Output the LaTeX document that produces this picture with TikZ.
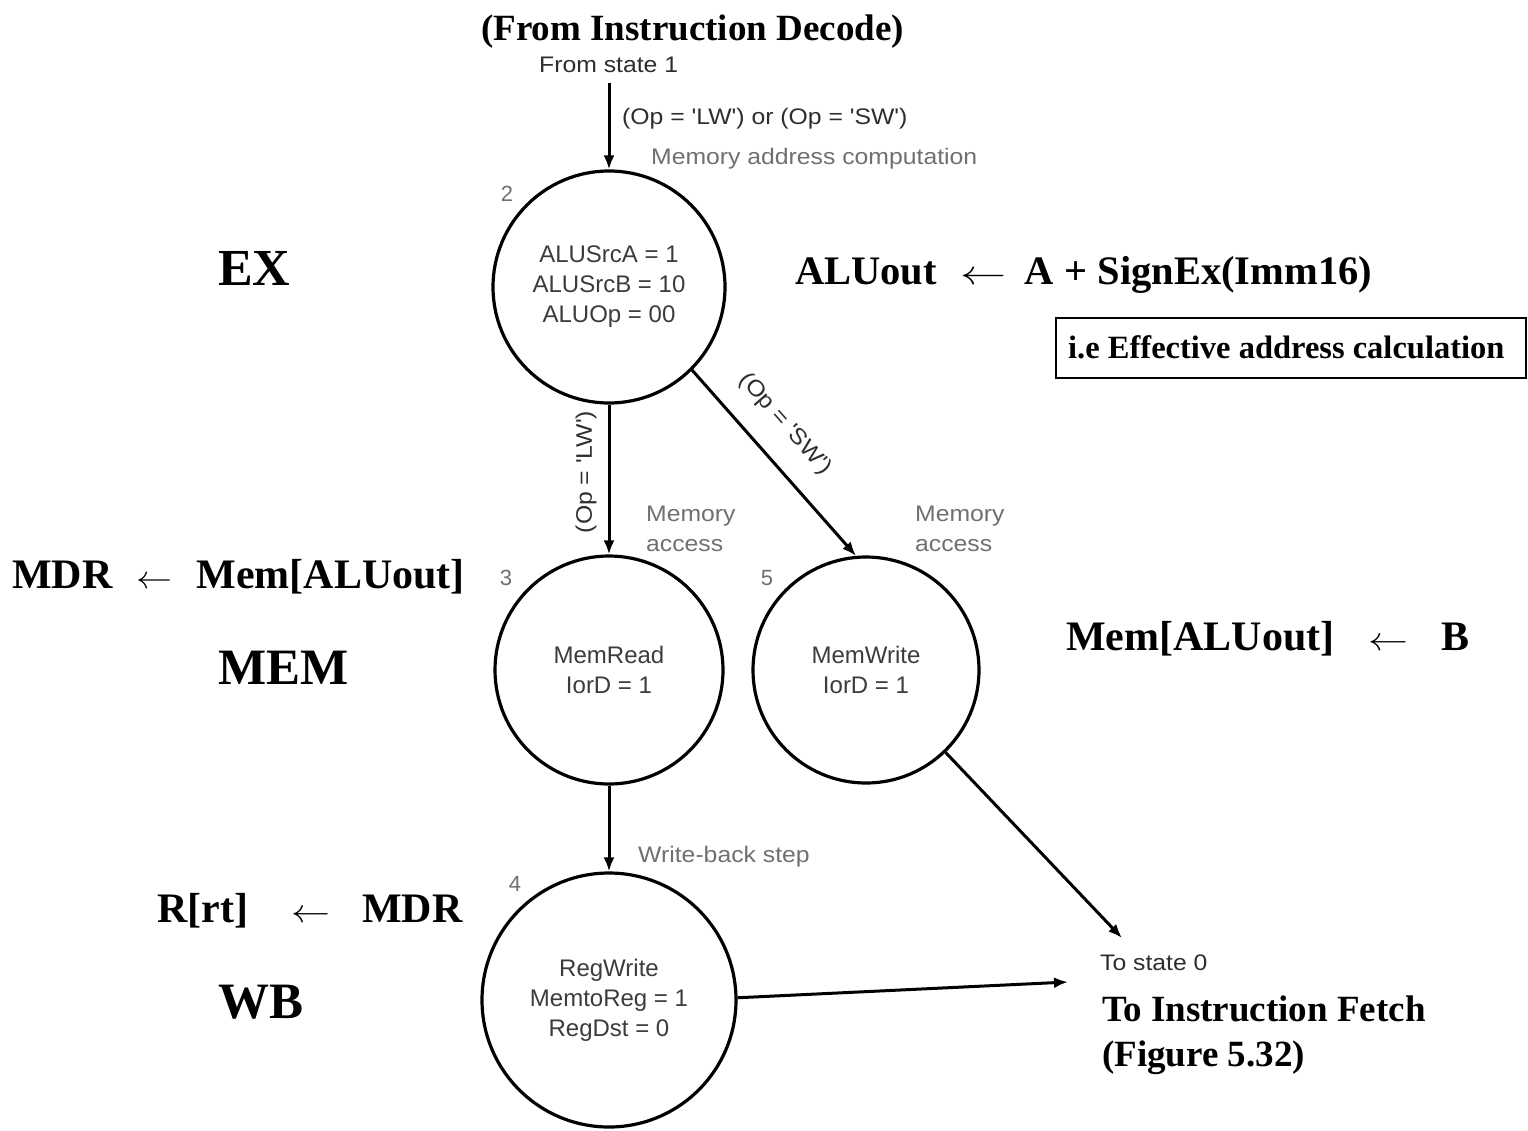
\RequirePackage{fix-cm}
\documentclass[tikz,border=0pt]{standalone}
\usepackage{fontspec}
\usepackage{graphicx}
\usetikzlibrary{arrows.meta}
\setmainfont{Liberation Serif}
\newfontfamily\sanslbl[FakeStretch=1.1]{Liberation Sans}
\newfontfamily\sanscirc{Liberation Sans}
\newcommand{\xwide}[2]{\scalebox{#1}[1]{#2}}
\newcommand{\fsz}[1]{\fontsize{#1}{#1}\selectfont}
\newcommand{\larr}[2]{\scalebox{#1}[#2]{\fsz{10}$\leftarrow$}}
\definecolor{lblgray}{HTML}{707070}
\definecolor{darklbl}{HTML}{2E2E2E}
\definecolor{circtext}{HTML}{3C3C3C}

\begin{document}
\begin{tikzpicture}[x=1pt,y=-1pt,
  state/.style={circle, draw=black, line width=3.2pt, inner sep=0pt,
    align=center, text=circtext, font=\sanscirc\fontsize{24}{30}\selectfont},
  flow/.style={line width=3pt, -{Latex[length=14pt,width=11pt]}},
  lbl/.style={inner sep=0pt, anchor=base west, text=darklbl,
    font=\sanslbl\fontsize{22.5}{22.5}\selectfont},
  phase/.style={inner sep=0pt, anchor=base west, text=lblgray,
    font=\sanslbl\fontsize{22.5}{22.5}\selectfont},
  num/.style={inner sep=0pt, text=lblgray, font=\sanscirc\fontsize{22}{22}\selectfont},
  bold/.style={inner sep=0pt, anchor=base west, font=\bfseries}]

\fill[white] (0,0) rectangle (1528,1130);
\useasboundingbox (0,0) rectangle (1528,1130);

% states
\node[state, minimum size=232pt] (s2) at (609,287) {ALUSrcA = 1\\ALUSrcB = 10\\ALUOp = 00};
\node[state, minimum size=228pt] (s3) at (609,670) {MemRead\\IorD = 1};
\node[state, minimum size=226pt] (s5) at (866,670) {MemWrite\\IorD = 1};
\node[state, minimum size=254pt] (s4) at (609,1000) {RegWrite\\MemtoReg = 1\\RegDst = 0};

% state numbers
\node[num] (n2) at (507,194) {2};
\node[num] (n3) at (506,578) {3};
\node[num] (n5) at (767,578) {5};
\node[num] (n4) at (515,884) {4};

% transitions
\coordinate (entry) at (609,83);
\coordinate (tozero) at (1122,938);
\coordinate (tofetch) at (1068,982);
\draw[flow] (entry) -- (s2.north);
\draw[flow] (s2.south) -- (s3.north);
\draw[flow] (s2.-45) -- (s5.95);
\draw[flow] (s3.south) -- (s4.north);
\draw[flow] (s5.-46) -- (tozero);
\draw[flow] (s4.1) -- (tofetch);

% small labels
\node[lbl] (from1) at (539,72) {From state 1};
\node[lbl] (cond) at (622,124) {(Op = 'LW') or (Op = 'SW')};
\node[phase] (addr) at (651,164) {Memory address computation};
\node[lbl, anchor=center, rotate=90] (condlw) at (586,472) {(Op = 'LW')};
\node[lbl, anchor=center, rotate=-48.6] (condsw) at (785,424) {(Op = 'SW')};
\node[phase] (acc3a) at (646,521) {Memory};
\node[phase] (acc3b) at (646,551) {access};
\node[phase] (acc5a) at (915,521) {Memory};
\node[phase] (acc5b) at (915,551) {access};
\node[phase] (wb) at (638,862) {Write-back step};
\node[lbl] (to0) at (1100,970) {To state 0};

% stage names and register transfers
\node[bold] (dec) at (481,40) {\fsz{37}(From Instruction Decode)};
\node[bold] (ex) at (218,285) {\fsz{52}EX};
\node[bold] (mem) at (218,684) {\fsz{51}MEM};
\node[bold] (wbs) at (218,1018) {\fsz{51}WB};

\node[bold] (rtalu) at (795,284) {\fsz{40.5}ALUout\hspace{24pt}\larr{4.6}{3.4}\hspace{18pt}A + SignEx(Imm16)};
\node[bold] (rtmdr) at (12,588) {\fsz{42}MDR\hspace{24pt}\larr{3.6}{3.2}\hspace{24pt}Mem[ALUout]};
\node[bold] (rtmem) at (1066,650) {\fsz{42}Mem[ALUout]\hspace{34pt}\larr{4}{3.3}\hspace{33pt}B};
\node[bold] (rtreg) at (157,922) {\fsz{42}R[rt]\hspace{43pt}\larr{3.9}{3.3}\hspace{32pt}MDR};

\node[bold] (fetch1) at (1102,1021) {\fsz{37}To Instruction Fetch};
\node[bold] (fetch2) at (1102,1066) {\fsz{37}(Figure 5.32)};

% note box
\draw[line width=2pt] (1056,318) rectangle (1526,378);
\node[bold] (note) at (1068,358) {\fsz{32.5}i.e Effective address calculation};

\end{tikzpicture}
\end{document}
